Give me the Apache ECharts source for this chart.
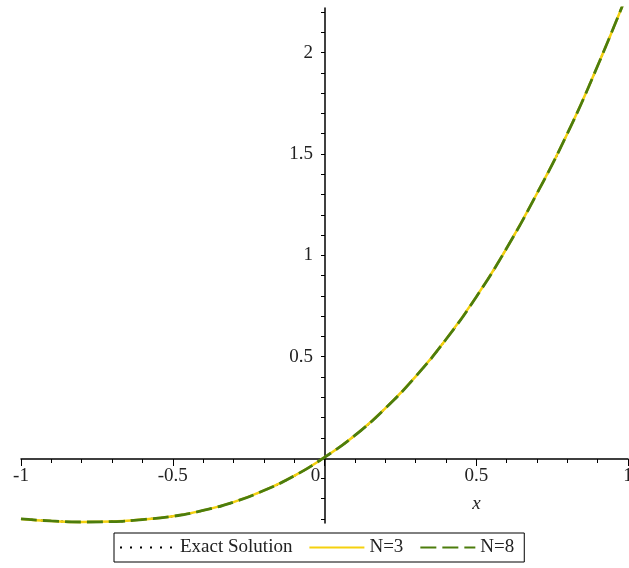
<!DOCTYPE html>
<html>
<head>
<meta charset="utf-8">
<script src="https://cdn.jsdelivr.net/npm/echarts@6/dist/echarts.min.js"></script>
<style>
  html, body { margin: 0; padding: 0; background: #fff; }
  #plot { width: 629px; height: 568px; }
</style>
</head>
<body>
<div id="plot"></div>
<script>
// x samples and the curves (all three lie on top of each other)
var xs     = [-1, -0.9, -0.8, -0.7, -0.6, -0.5, -0.4, -0.3, -0.2, -0.1, 0, 0.1, 0.2, 0.3, 0.4, 0.5, 0.6, 0.7, 0.8, 0.9, 1];
var exactY = [-0.300, -0.310, -0.315, -0.313, -0.303, -0.287, -0.258, -0.217, -0.160, -0.088, 0.004, 0.112, 0.245, 0.402, 0.585, 0.795, 1.035, 1.305, 1.600, 1.935, 2.300];
var n3Y    = [-0.300, -0.310, -0.315, -0.313, -0.303, -0.287, -0.258, -0.217, -0.160, -0.088, 0.004, 0.112, 0.245, 0.402, 0.585, 0.795, 1.035, 1.305, 1.600, 1.935, 2.300];
var n8Y    = [-0.300, -0.310, -0.315, -0.313, -0.303, -0.287, -0.258, -0.217, -0.160, -0.088, 0.004, 0.112, 0.245, 0.402, 0.585, 0.795, 1.035, 1.305, 1.600, 1.935, 2.300];

var yLabels = [0.5, 1, 1.5, 2];
var yMinor = [-0.3, -0.2, -0.1, 0.1, 0.2, 0.3, 0.4, 0.5, 0.6, 0.7, 0.8, 0.9, 1, 1.1, 1.2, 1.3, 1.4, 1.5, 1.6, 1.7, 1.8, 1.9, 2, 2.1, 2.2];

function pairs(ys) {
    return xs.map(function (x, i) { return [x, ys[i]]; });
}

var serif = 'Liberation Serif';
var chart = echarts.init(document.getElementById('plot'));

// axes cross at the origin: moved there with offset (grid is 21..628 x 8..523)
var option = {
    animation: false,
    grid: { left: 21, right: 1, top: 8, bottom: 45, containLabel: false, outerBoundsMode: 'none' },
    legend: {
        data: ['Exact Solution', 'N=3', 'N=8'],
        left: 114,
        top: 533,
        padding: [5, 10, 5, 5],
        itemWidth: 55,
        itemHeight: 16,
        itemGap: 16,
        borderColor: '#000',
        borderWidth: 1,
        backgroundColor: '#fff',
        itemStyle: { opacity: 0 },
        textStyle: { fontFamily: serif, fontSize: 19, color: '#222' }
    },
    xAxis: {
        type: 'value',
        min: -1,
        max: 1,
        interval: 0.5,
        offset: -64,
        name: 'x',
        nameLocation: 'middle',
        nameGap: 35,
        nameTextStyle: { fontFamily: serif, fontStyle: 'italic', fontSize: 19, color: '#222', padding: [0, 0, 0, 304] },
        axisLine: { onZero: false, lineStyle: { color: '#000', width: 1.5 } },
        axisTick: { show: true, length: 7, lineStyle: { color: '#000' } },
        minorTick: { show: true, splitNumber: 5, length: 4, lineStyle: { color: '#000' } },
        splitLine: { show: false },
        axisLabel: {
            margin: 8,
            fontFamily: serif,
            fontSize: 19,
            color: '#222',
            formatter: function (v) {
                if (v === 0) return '{z|0}';
                return String(v);
            },
            rich: { z: { fontFamily: serif, fontSize: 19, color: '#222', padding: [0, 18, 0, 0] } }
        }
    },
    yAxis: {
        type: 'value',
        min: -0.32,
        max: 2.22,
        offset: -304,
        axisLine: { onZero: false, lineStyle: { color: '#000', width: 1.5 } },
        axisTick: { show: true, length: 4, customValues: yMinor, lineStyle: { color: '#000' } },
        splitLine: { show: false },
        axisLabel: {
            customValues: yLabels,
            margin: 12,
            fontFamily: serif,
            fontSize: 19,
            color: '#222'
        }
    },
    series: [
        {
            name: 'Exact Solution',
            type: 'line',
            smooth: true,
            symbol: 'none',
            z: 1,
            data: pairs(exactY),
            lineStyle: { color: '#000', width: 2, type: [2, 8] },
            itemStyle: { color: '#000' }
        },
        {
            name: 'N=3',
            type: 'line',
            smooth: true,
            symbol: 'none',
            z: 2,
            data: pairs(n3Y),
            lineStyle: { color: '#f5d10f', width: 2.5, type: 'solid' },
            itemStyle: { color: '#f5d10f' }
        },
        {
            name: 'N=8',
            type: 'line',
            smooth: true,
            symbol: 'none',
            z: 3,
            data: pairs(n8Y),
            lineStyle: { color: '#4c7d0c', width: 2.8, type: [16, 6] },
            itemStyle: { color: '#4c7d0c' }
        }
    ]
};

chart.setOption(option);
</script>
</body>
</html>
